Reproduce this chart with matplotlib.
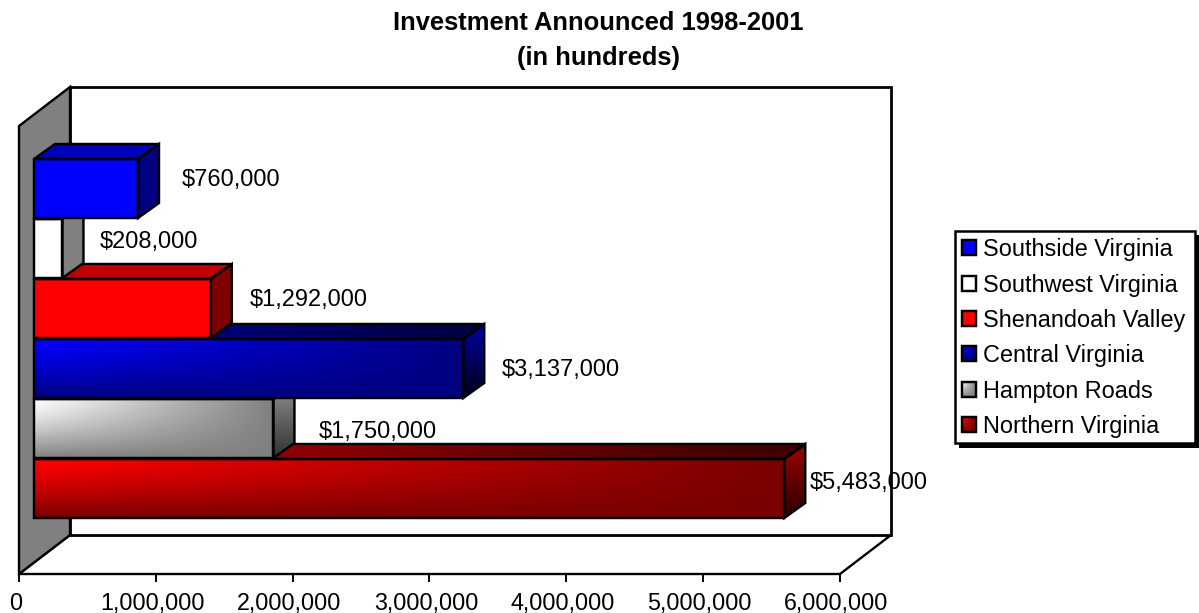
import numpy as np
import matplotlib
matplotlib.use("Agg")
import matplotlib.pyplot as plt
from matplotlib.patches import Polygon, Rectangle
from matplotlib.colors import to_rgb
from matplotlib.transforms import ScaledTranslation

plt.rcParams["font.family"] = ["Liberation Sans", "DejaVu Sans"]

# Listed top to bottom as they appear on the chart
regions = ["Southside Virginia", "Southwest Virginia", "Shenandoah Valley",
           "Central Virginia", "Hampton Roads", "Northern Virginia"]
investment = [760000, 208000, 1292000, 3137000, 1750000, 5483000]
x_ticks = [0, 1000000, 2000000, 3000000, 4000000, 5000000, 6000000]
title_lines = "Investment Announced 1998-2001\n(in hundreds)"

# (light, dark) colour pairs for each face of each box
front_cols = [("#0000ff", "#0000ff"), ("#ffffff", "#ffffff"), ("#ff0000", "#ff0000"),
              ("#0000ff", "#000080"), ("#ffffff", "#808080"), ("#ff0000", "#780000")]
top_cols = [("#0000b8", "#0000b8"), ("#c0c0c0", "#c0c0c0"), ("#c00000", "#c00000"),
            ("#0000a0", "#000040"), ("#c0c0c0", "#606060"), ("#c00000", "#3c0000")]
side_cols = [("#000080", "#000080"), ("#808080", "#808080"), ("#800000", "#800000"),
             ("#0000a0", "#000018"), ("#909090", "#303030"), ("#a00000", "#280000")]

W, H = 1199, 613
fig = plt.figure(figsize=(W / 100, H / 100), dpi=100, facecolor="white")

# Plot axes: the x axis runs along the front floor edge, y is in pixels
AX_L, AX_R, AX_T, AX_B = 19, 840, 87, 574
ax = fig.add_axes([AX_L / W, 1 - AX_B / H, (AX_R - AX_L) / W, (AX_B - AX_T) / H])
ax.set_xlim(0, 6000000)
ax.set_ylim(AX_B, AX_T)
ax.set_autoscale_on(False)
ax.patch.set_visible(False)
for name in ("top", "left", "right"):
    ax.spines[name].set_visible(False)
ax.spines["bottom"].set_linewidth(1.4)
ax.set_yticks([])
ax.set_xticks(x_ticks)
ax.set_xticklabels([f"{t:,}" for t in x_ticks], fontsize=16.8, color="black")
ax.tick_params(axis="x", length=5.5, width=1.4, pad=7.5)
label_shift = ScaledTranslation(-3.5 / 100, 0, fig.dpi_scale_trans)
for lab in ax.get_xticklabels():
    lab.set_transform(lab.get_transform() + label_shift)

px = 6000000 / (AX_R - AX_L)   # axis units per pixel
DEPTH_X, DEPTH_Y = 51 * px, 39  # wall depth
BOX_X, BOX_Y = 21 * px, 15      # box depth
BASE = 15 * px                  # gap between the wall foot and the box fronts
LW = 1.75

# Walls and floor
back = [(DEPTH_X, 87), (6000000 + DEPTH_X, 87), (6000000 + DEPTH_X, 535), (DEPTH_X, 535)]
left = [(0, 126), (DEPTH_X, 87), (DEPTH_X, 535), (0, 574)]
floor = [(0, 574), (DEPTH_X, 535), (6000000 + DEPTH_X, 535), (6000000, 574)]
ax.add_patch(Polygon(floor, closed=True, fc="white", ec="black", lw=1.7, clip_on=False, zorder=1))
ax.add_patch(Polygon(back, closed=True, fc="white", ec="black", lw=2.0, clip_on=False, zorder=1))
ax.add_patch(Polygon(left, closed=True, fc="#808080", ec="black", lw=1.7, clip_on=False, zorder=1))


def shaded(axes, verts, light, dark, mode, z):
    """Fill a polygon with a two-colour shade, outlined in black."""
    verts = np.array(verts, dtype=float)
    x0, x1 = verts[:, 0].min(), verts[:, 0].max()
    y0, y1 = verts[:, 1].min(), verts[:, 1].max()
    u, v = np.meshgrid(np.linspace(0, 1, 300), np.linspace(0, 1, 60))
    if mode == "corner":
        t = 1 - (1 - u) * (1 - v ** 1.3)
    elif mode == "across":
        t = u ** 0.9
    else:
        t = v
    a, b = np.array(to_rgb(light)), np.array(to_rgb(dark))
    rgb = a + (b - a) * t[..., None]
    im = axes.imshow(rgb, extent=(x0, x1, y1, y0), aspect="auto",
                     interpolation="bilinear", zorder=z)
    outline = Polygon(verts, closed=True, fc="none", ec="black", lw=LW, zorder=z + 0.01,
                      joinstyle="miter", transform=axes.transData)
    axes.add_patch(outline)
    clip = Polygon(verts, closed=True, transform=axes.transData)
    im.set_clip_path(clip)


# Boxes are stacked from the bottom row upward so each hides the top of the one below
ROW_TOP, ROW_H = 159, 60
for i in range(len(regions) - 1, -1, -1):
    right = BASE + investment[i]
    y0, y1 = ROW_TOP + ROW_H * i, ROW_TOP + ROW_H * (i + 1) - 1
    z = 2 + (len(regions) - i)
    shaded(ax, [(BASE, y0), (right, y0), (right + BOX_X, y0 - BOX_Y), (BASE + BOX_X, y0 - BOX_Y)],
           *top_cols[i], "across", z)
    shaded(ax, [(right, y0), (right + BOX_X, y0 - BOX_Y), (right + BOX_X, y1 - BOX_Y), (right, y1)],
           *side_cols[i], "down", z)
    shaded(ax, [(BASE, y0), (right, y0), (right, y1), (BASE, y1)],
           *front_cols[i], "corner", z)

# Value labels sit beside each box
label_gap = [44, 37, 39, 38, 45, 25]
label_y = [180, 242, 300, 370, 432, 483]
for i, v in enumerate(investment):
    ax.text(BASE + v + label_gap[i] * px, label_y[i], f"${v:,}", fontsize=17,
            va="center", ha="left", color="black", zorder=20, clip_on=False)

fig.text(598.5 / W, 1 - 40.5 / H, title_lines, ha="center", va="center", fontsize=18.4,
         fontweight="bold", linespacing=1.56, color="black")

# Legend panel, laid out in figure pixels
lg = fig.add_axes([0, 0, 1, 1], zorder=5)
lg.set_xlim(0, W)
lg.set_ylim(H, 0)
lg.set_autoscale_on(False)
lg.axis("off")
lg.add_patch(Rectangle((959, 235), 240, 213, fc="black", ec="none", zorder=1))
lg.add_patch(Rectangle((954.5, 230.5), 240, 212, fc="white", ec="black", lw=1.8, zorder=2))
rows = [248, 284, 319, 354, 390, 425]
for i, name in enumerate(regions):
    y = rows[i]
    shaded(lg, [(962, y - 8), (976, y - 8), (976, y + 7), (962, y + 7)],
           *front_cols[i], "corner", 3)
    lg.text(983, y + 1.5, name, fontsize=16.9, va="center", ha="left", color="black", zorder=4)

fig.savefig("out.png", dpi=100, facecolor="white")
